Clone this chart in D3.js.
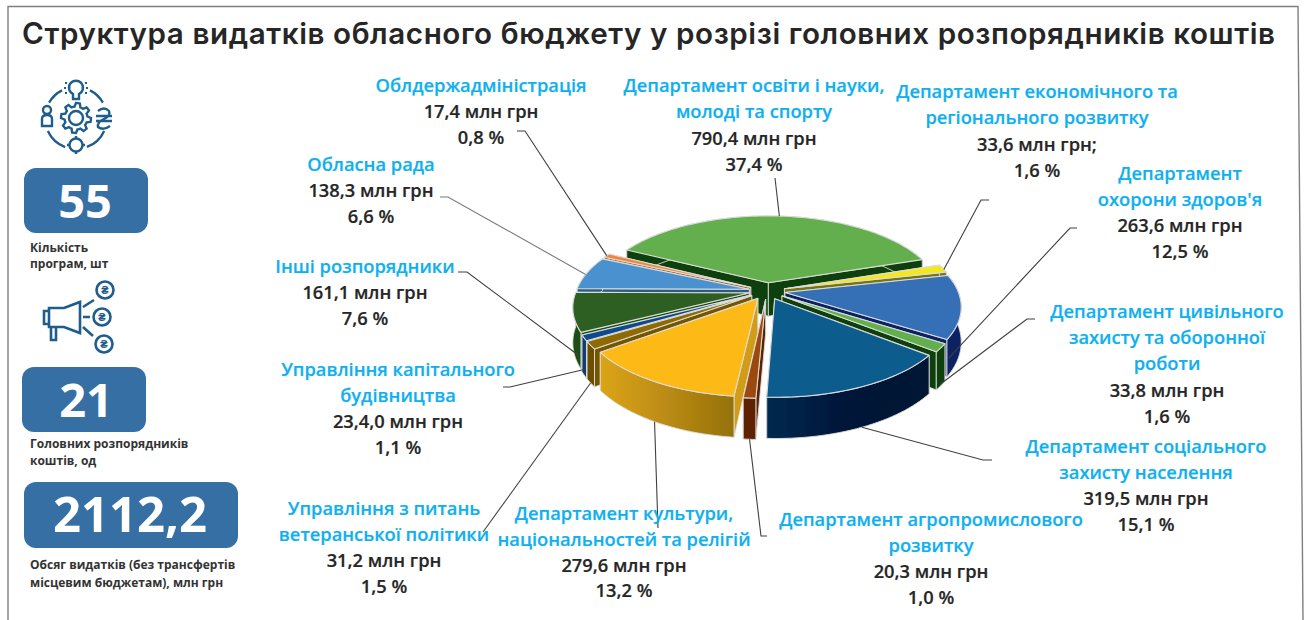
<!DOCTYPE html>
<html lang="uk">
<head>
  <meta charset="UTF-8">
  <title>Структура видатків обласного бюджету</title>
  <style>
    html, body { margin: 0; padding: 0; background: #fff; overflow: hidden; }
    svg { display: block; }
    text { font-family: "Open Sans", sans-serif; }
    .title { font-family: Inter, sans-serif; font-size: 29.6px; font-weight: 600; fill: #262626; }
    .name { font-size: 18.3px; font-weight: 600; fill: #0fb0ef; stroke: #0fb0ef; stroke-width: 0.2px; text-anchor: middle; }
    .amount { font-size: 18.3px; font-weight: 600; fill: #262626; stroke: #262626; stroke-width: 0.2px; text-anchor: middle; }
    .big { font-weight: 700; fill: #fff; text-anchor: middle; }
    .caption { font-size: 12px; font-weight: 700; fill: #333; }
  </style>
</head>
<body>
  <svg width="1306" height="620"></svg>

  <script src="https://d3js.org/d3.v7.min.js"></script>
  <script>
    // дані, порядок за годинниковою стрілкою від департаменту освіти
    const categories = [
      ["Департамент освіти і науки,", "молоді та спорту"],
      ["Департамент економічного та", "регіонального розвитку"],
      ["Департамент", "охорони здоров'я"],
      ["Департамент цивільного", "захисту та оборонної", "роботи"],
      ["Департамент соціального", "захисту населення"],
      ["Департамент агропромислового", "розвитку"],
      ["Департамент культури,", "національностей та релігій"],
      ["Управління з питань", "ветеранської політики"],
      ["Управління капітального", "будівництва"],
      ["Інші розпорядники"],
      ["Обласна рада"],
      ["Облдержадміністрація"]
    ];
    const values = [790.4, 33.6, 263.6, 33.8, 319.5, 20.3, 279.6, 31.2, 23.4, 161.1, 138.3, 17.4];
    const amountLabels = ["790,4 млн грн", "33,6 млн грн;", "263,6 млн грн", "33,8 млн грн", "319,5 млн грн", "20,3 млн грн",
      "279,6 млн грн", "31,2 млн грн", "23,4,0 млн грн", "161,1 млн грн", "138,3 млн грн", "17,4 млн грн"];
    const shareLabels = ["37,4 %", "1,6 %", "12,5 %", "1,6 %", "15,1 %", "1,0 %", "13,2 %", "1,5 %", "1,1 %", "7,6 %", "6,6 %", "0,8 %"];
    const summaryValues = ["55", "21", "2112,2"];
    const summaryCaptions = [
      ["Кількість", "програм, шт"],
      ["Головних розпорядників", "коштів, од"],
      ["Обсяг видатків (без трансфертів", "місцевим бюджетам), млн грн"]
    ];
    const titleText = "Структура видатків обласного бюджету у розрізі головних розпорядників коштів";

    // оформлення
    const topColors = ["#64ae4e", "#f4e81f", "#356fb6", "#64ae4e", "#0f5b8e", "#9c4a0d", "#fdb914", "#8e6a02", "#104c8c", "#2f5e21", "#4a92cf", "#f0853a"];
    const wallColors = ["#103f07", "#77750f", "#0b2463", "#103f07", "url(#navyWall)", "#5f2000", "url(#goldWall)", "#6b4f02", "#0b3a72", "#1f4d12", "#2b5c85", "#a65a22"];
    const endColors = ["#103f07", "#77750f", "#0b2463", "#103f07", "#00264a", "#5f2000", "#d29c12", "#745602", "#0b3a72", "#1f4d12", "#2b5c85", "#a65a22"];

    // [cx, базова лінія першого рядка, крок рядка]
    const labelLayout = [
      [754, 92, 26.4], [1037, 98, 26.4], [1180, 180, 26], [1167, 318, 26.2], [1146, 453, 26],
      [931, 526, 26], [624, 520, 25.8], [384, 515, 26], [398, 376, 26], [365, 273, 26], [371, 171, 26], [481, 92, 26]
    ];
    // точка на секторі (частка дуги, частка висоти) і зламні точки виноски
    const leaderLayout = [
      { t: 0.5, h: 0, pts: [[775, 178]] },
      { t: 0.62, h: 0, pts: [[981, 200], [989, 200]] },
      { t: 0.97, h: 0.55, pts: [[1070, 228], [1077, 228]] },
      { t: 0.5, h: 0.95, pts: [[1027, 319], [1035, 319]] },
      { t: 0.5, h: 1, pts: [[983, 460], [992, 460]] },
      { t: 0.5, h: 1, pts: [[761, 536], [767, 536]] },
      { t: 0.5, h: 1, pts: [[658, 528]] },
      { t: 0.5, h: 1, pts: [[483, 532]] },
      { t: 0.5, h: 0.85, pts: [[510, 387], [503, 387]] },
      { t: 0.12, h: 0.75, pts: [[467, 272], [458, 272]] },
      { t: 0.45, h: 0, pts: [[448, 197], [440, 197]] },
      { t: 0.5, h: 0, pts: [[525, 131], [517, 131]] }
    ];

    const svg = d3.select("svg");
    const defs = svg.append("defs");

    function wallGradient(id, x1, x2, stops) {
      const g = defs.append("linearGradient").attr("id", id)
        .attr("gradientUnits", "userSpaceOnUse")
        .attr("x1", x1).attr("x2", x2).attr("y1", 0).attr("y2", 0);
      stops.forEach((c, i) => g.append("stop").attr("offset", i / (stops.length - 1)).attr("stop-color", c));
    }
    wallGradient("navyWall", 770, 930, ["#00294d", "#001438", "#001233"]);
    wallGradient("goldWall", 600, 738, ["#dca518", "#b98a12", "#93700f"]);
    defs.append("filter").attr("id", "soft")
      .append("feGaussianBlur").attr("stdDeviation", 0.45);

    // рамка
    svg.append("path")
      .attr("d", "M8,620 L8,6.5 L1298,6.5 L1303,620")
      .attr("fill", "none").attr("stroke", "#7f7f7f").attr("stroke-width", 1.4);

    svg.append("text").attr("class", "title")
      .attr("x", 22).attr("y", 44)
      .attr("textLength", 1253).attr("lengthAdjust", "spacing")
      .text(titleText);

    // об'ємний круг: кути від d3.pie, проекція з перспективою
    const cx = 767, cy = 291, R = 173, Ry = 80, depth = 34, persp = 0.16, explode = 0.105;
    const pie = d3.pie().sort(null).value(d => d)
      .startAngle(-63 * Math.PI / 180).endAngle((360 - 63) * Math.PI / 180);
    const arcs = pie(values);

    function project(a, r, mid, h) {
      const px = r * Math.sin(a) + explode * Math.sin(mid);
      const pz = -r * Math.cos(a) - explode * Math.cos(mid);
      const s = 1 / (1 - persp * pz);
      return [cx + R * px * s, cy + (Ry * pz + depth * h) * s];
    }
    const line = d3.line();
    function arcPts(d, h) {
      const n = Math.max(4, Math.ceil((d.endAngle - d.startAngle) / 0.03));
      const mid = (d.startAngle + d.endAngle) / 2;
      return d3.range(n + 1).map(i => project(d.startAngle + (d.endAngle - d.startAngle) * i / n, 1, mid, h));
    }

    const order = arcs.map((d, i) => i).sort((a, b) => {
      const z = d => -Math.cos((arcs[d].startAngle + arcs[d].endAngle) / 2);
      return z(a) - z(b);
    });

    const pieG = svg.append("g").attr("stroke-linejoin", "round").attr("filter", "url(#soft)");
    const leaderG = svg.append("g");

    order.forEach(i => {
      const d = arcs[i];
      const mid = (d.startAngle + d.endAngle) / 2;
      const g = pieG.append("g");
      const stroke = "#dcdcdc";

      // бічні стінки: дальня, ближня
      const walls = [d.startAngle, d.endAngle].map(a => {
        const t0 = project(a, 0, mid, 0), t1 = project(a, 1, mid, 0);
        const b1 = project(a, 1, mid, 1), b0 = project(a, 0, mid, 1);
        return { z: -Math.cos(a), pts: [t0, t1, b1, b0] };
      }).sort((a, b) => a.z - b.z);
      walls.forEach(w => {
        g.append("path").attr("d", line(w.pts) + "Z")
          .attr("fill", endColors[i]).attr("stroke", stroke).attr("stroke-width", 0.9);
      });

      // зовнішня стінка
      const top = arcPts(d, 0), bottom = arcPts(d, 1).reverse();
      g.append("path").attr("d", line(top.concat(bottom)) + "Z")
        .attr("fill", wallColors[i]).attr("stroke", stroke).attr("stroke-width", 0.9);

      // верх
      const centre = project(0, 0, mid, 0);
      g.append("path").attr("d", line([centre].concat(top)) + "Z")
        .attr("fill", topColors[i]).attr("stroke", stroke).attr("stroke-width", 1.1);
    });

    // виноски
    leaderLayout.forEach((l, i) => {
      const d = arcs[i];
      const mid = (d.startAngle + d.endAngle) / 2;
      const start = project(d.startAngle + (d.endAngle - d.startAngle) * l.t, 1, mid, l.h);
      leaderG.append("path").attr("d", line([start].concat(l.pts)))
        .attr("fill", "none").attr("stroke", i === 10 ? "#7a7a7a" : "#404040").attr("stroke-width", 1.1);
    });

    // підписи
    categories.forEach((lines, i) => {
      const [x, y0, step] = labelLayout[i];
      const g = svg.append("g");
      lines.forEach((t, k) => {
        g.append("text").attr("class", "name").attr("x", x).attr("y", y0 + k * step).text(t);
      });
      g.append("text").attr("class", "amount").attr("x", x).attr("y", y0 + lines.length * step).text(amountLabels[i]);
      g.append("text").attr("class", "amount").attr("x", x).attr("y", y0 + (lines.length + 1) * step).text(shareLabels[i]);
    });

    // ліва панель
    const panelLayout = [
      { x: 24, y: 168, w: 124, h: 65, tx: 85, ty: 218, fs: 47, cap: [252, 268] },
      { x: 22, y: 367, w: 124, h: 65, tx: 86, ty: 417, fs: 47, cap: [448, 465] },
      { x: 24, y: 482, w: 214, h: 66, tx: 130, ty: 532, fs: 49, cap: [569, 587] }
    ];
    summaryValues.forEach((v, i) => {
      const p = panelLayout[i];
      svg.append("rect").attr("x", p.x).attr("y", p.y).attr("width", p.w).attr("height", p.h)
        .attr("rx", 12).attr("fill", "#356fa4");
      svg.append("text").attr("class", "big").attr("x", p.tx).attr("y", p.ty)
        .attr("font-size", p.fs).text(v);
      summaryCaptions[i].forEach((t, k) => {
        svg.append("text").attr("class", "caption").attr("x", 30).attr("y", p.cap[k]).text(t);
      });
    });

    // піктограми
    const iconColor = "#1f5d8c";
    const icon1 = svg.append("g").attr("fill", "none").attr("stroke", iconColor).attr("stroke-width", 2.4);
    const gearR = d3.range(48).map(i => (Math.floor(i / 3) % 2 === 0 ? 15 : 11.5));
    icon1.append("path").attr("transform", "translate(76,118)")
      .attr("d", d3.lineRadial().angle((d, i) => i / 48 * 2 * Math.PI).radius(d => d).curve(d3.curveLinearClosed)(gearR));
    icon1.append("circle").attr("cx", 76).attr("cy", 118).attr("r", 7);
    const ring = d3.arc().innerRadius(31).outerRadius(31);
    [[-1.05, -0.47], [0.47, 1.05], [2.0, 2.78], [3.5, 4.28]].forEach(a => {
      icon1.append("path").attr("transform", "translate(76,118)")
        .attr("d", ring({ startAngle: a[0], endAngle: a[1] }));
    });
    // лампочка
    icon1.append("path").attr("d", "M73,94 A7,7 0 1 1 79,94 V99 H73 Z");
    icon1.append("path").attr("stroke-width", 1.8).attr("d", "M65,83 H67 M64,88 H66 M65,93 H67 M85,83 H87 M86,88 H88 M85,93 H87");
    // людина
    icon1.append("circle").attr("cx", 47).attr("cy", 110).attr("r", 4);
    icon1.append("path").attr("d", "M42,126 V119 Q42,115 47,115 Q52,115 52,119 V126 Z");
    // гривня
    icon1.append("path").attr("d", "M98,111 Q104,106 109,111 Q111,116 104,119 Q97,122 98,127 Q103,131 110,126 M96,116 H112 M96,121 H112");
    // гайка внизу
    icon1.append("circle").attr("cx", 76).attr("cy", 145).attr("r", 6.5);
    icon1.append("path").attr("d", "M76,136 V138.5 M76,151.5 V154 M67,145 H69.5 M82.5,145 H85");

    const icon2 = svg.append("g").attr("fill", "none").attr("stroke", iconColor).attr("stroke-width", 2.6);
    icon2.append("path").attr("d", "M49,308 L64,308 L80,302 V333 L64,327 L49,327 Z");
    icon2.append("path").attr("d", "M49,311 H44 V324 H49");
    icon2.append("path").attr("d", "M51,327 V340 H56 V327");
    icon2.append("path").attr("d", "M83,307 L94,300 M83,317 H90 M83,327 L93,336");
    [[105, 290], [102, 317], [104, 344]].forEach(c => {
      icon2.append("circle").attr("cx", c[0]).attr("cy", c[1]).attr("r", 8.5);
      icon2.append("text").attr("x", c[0]).attr("y", c[1] + 4).attr("text-anchor", "middle")
        .attr("font-size", 11).attr("font-weight", 700).attr("fill", iconColor).attr("stroke", "none").text("₴");
    });
  </script>
</body>
</html>
